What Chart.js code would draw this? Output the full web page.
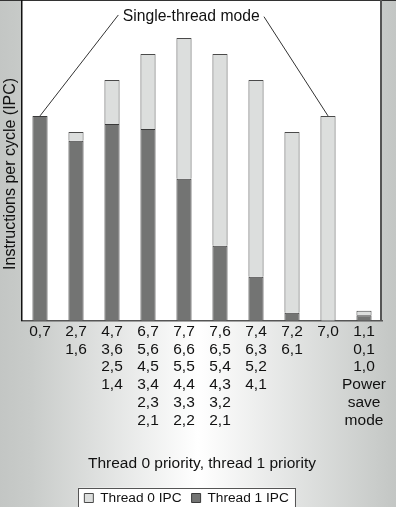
<!DOCTYPE html>
<html><head><meta charset="utf-8">
<script src="https://cdn.jsdelivr.net/npm/chart.js@4/dist/chart.umd.min.js"></script>
<style>html,body{margin:0;padding:0;background:#fff;overflow:hidden}</style>
</head><body>
<canvas id="c" width="396" height="507" style="display:block;width:396px;height:507px"></canvas>
<script>
const categories = [["0,7"],["2,7","1,6"],["4,7","3,6","2,5","1,4"],["6,7","5,6","4,5","3,4","2,3","2,1"],["7,7","6,6","5,5","4,4","3,3","2,2"],["7,6","6,5","5,4","4,3","3,2","2,1"],["7,4","6,3","5,2","4,1"],["7,2","6,1"],["7,0"],["1,1","0,1","1,0","Power","save","mode"]];
const thread0IPC = [0, 0.09, 0.44, 0.75, 1.41, 1.92, 1.97, 1.81, 2.05, 0.045];
const thread1IPC = [2.05, 1.80, 1.97, 1.92, 1.42, 0.75, 0.44, 0.08, 0, 0.055];
const seriesNames = ["Thread 0 IPC", "Thread 1 IPC"];
const xTitle = "Thread 0 priority, thread 1 priority";
const yTitle = "Instructions per cycle (IPC)";
const annotationText = "Single-thread mode";
const annotationTargets = [0, 8];
const annotationPos = [4.2, 3.0];

const FONT = '"Liberation Sans", Arial, Helvetica, sans-serif';

const decor = {
  id: 'decor',
  afterLayout(chart) {
    const lg = chart.legend;
    const dx = 186.6 - (lg.left + lg.right) / 2;
    lg.left += dx; lg.right += dx;
    lg.top += 7.85; lg.bottom += 7.85;
  },
  beforeDraw(chart) {
    const {ctx, chartArea: a, width, height} = chart;
    ctx.save();
    const g = ctx.createLinearGradient(0, 0, width, 0);
    g.addColorStop(0, '#c3c6c4');
    g.addColorStop(0.08, '#c9ccca');
    g.addColorStop(0.5, '#ffffff');
    g.addColorStop(0.95, '#c9ccca');
    g.addColorStop(1, '#c3c6c4');
    ctx.fillStyle = g;
    ctx.fillRect(0, 0, width, height);
    ctx.fillStyle = '#ffffff';
    ctx.fillRect(a.left, a.top, a.right - a.left, a.bottom - a.top);
    ctx.fillStyle = '#333';
    ctx.fillRect(0, 0, width, 1);
    // legend frame
    const lg = chart.legend;
    if (lg && lg.lineWidths) {
      const pad = lg.options.labels.padding;
      const lw = lg.lineWidths[0];
      const x0 = (lg.left + pad + lg.right - lw) / 2;
      const x1 = x0 + lw - pad;
      const fs = lg.options.labels.font.size;
      const cy = lg.top + pad + fs / 2;
      ctx.fillStyle = '#ffffff';
      ctx.fillRect(x0 - 6, cy - 10.3, x1 - x0 + 12, 20.6);
      ctx.strokeStyle = '#555';
      ctx.lineWidth = 1;
      ctx.strokeRect(Math.round(x0 - 6) + 0.5, Math.round(cy - 10.3) + 0.5, Math.round(x1 - x0 + 12), 21);
    }
    ctx.restore();
  },
  afterDraw(chart) {
    const {ctx, chartArea: a, scales} = chart;
    const xs = scales.x, ys = scales.y;
    ctx.save();
    // right frame
    ctx.strokeStyle = '#555';
    ctx.lineWidth = 2;
    ctx.beginPath(); ctx.moveTo(a.right - 1, 0); ctx.lineTo(a.right - 1, a.bottom); ctx.stroke();
    // y title
    ctx.fillStyle = '#111';
    ctx.font = '16px ' + FONT;
    ctx.textAlign = 'center';
    ctx.textBaseline = 'middle';
    ctx.translate(a.left - 11.5, (a.top + a.bottom) / 2 + 13);
    ctx.rotate(-Math.PI / 2);
    ctx.fillText(yTitle, 0, 0);
    ctx.restore();
    // annotation
    ctx.save();
    ctx.fillStyle = '#111';
    ctx.font = '15.7px ' + FONT;
    ctx.textAlign = 'center';
    ctx.textBaseline = 'alphabetic';
    const tx = xs.getPixelForValue(annotationPos[0]);
    const ty = ys.getPixelForValue(annotationPos[1]);
    ctx.fillText(annotationText, tx, ty);
    const w = ctx.measureText(annotationText).width;
    ctx.strokeStyle = '#333';
    ctx.lineWidth = 1;
    const t0 = annotationTargets[0], t1 = annotationTargets[1];
    ctx.beginPath();
    ctx.moveTo(tx - w / 2 - 4.4, ty - 6);
    ctx.lineTo(xs.getPixelForValue(t0), ys.getPixelForValue(thread0IPC[t0] + thread1IPC[t0]));
    ctx.moveTo(tx + w / 2 + 4.3, ty - 4.3);
    ctx.lineTo(xs.getPixelForValue(t1), ys.getPixelForValue(thread0IPC[t1] + thread1IPC[t1]));
    ctx.stroke();
    ctx.restore();
  }
};

new Chart(document.getElementById('c'), {
  type: 'bar',
  data: {
    labels: categories,
    datasets: [
      { label: seriesNames[1], data: thread1IPC, backgroundColor: '#737473', borderColor: '#3a3a3a', borderWidth: 1, barPercentage: 0.42, categoryPercentage: 1 },
      { label: seriesNames[0], data: thread0IPC, backgroundColor: '#dcdedd', borderColor: '#4a4a4a', borderWidth: 1, barPercentage: 0.42, categoryPercentage: 1 }
    ]
  },
  options: {
    responsive: false,
    animation: false,
    devicePixelRatio: 1,
    layout: { padding: { top: 1, right: 14, left: 0, bottom: 0 } },
    plugins: {
      legend: {
        position: 'bottom',
        reverse: true,
        labels: { boxWidth: 9, boxHeight: 9, padding: 10, color: '#111', font: { family: FONT, size: 13.7 } }
      },
      tooltip: { enabled: false }
    },
    scales: {
      x: {
        stacked: true,
        grid: { display: false, drawTicks: false },
        border: { display: true, color: '#555', width: 1.5 },
        ticks: { color: '#111', padding: 2, maxRotation: 0, autoSkip: false, font: { family: FONT, size: 15.5, lineHeight: 1.148 } },
        title: { display: true, text: xTitle, color: '#111', font: { family: FONT, size: 15.5, lineHeight: 1.2 }, padding: { top: 0, bottom: 0.7 } },
        afterFit(s) { s.height = 152.6; }
      },
      y: {
        stacked: true,
        min: 0, max: 3.2,
        grid: { display: false, drawTicks: false },
        border: { display: true, color: '#111', width: 1.5 },
        ticks: { display: false },
        afterFit(s) { s.width = 22; }
      }
    }
  },
  plugins: [decor]
});
</script>
</body></html>
